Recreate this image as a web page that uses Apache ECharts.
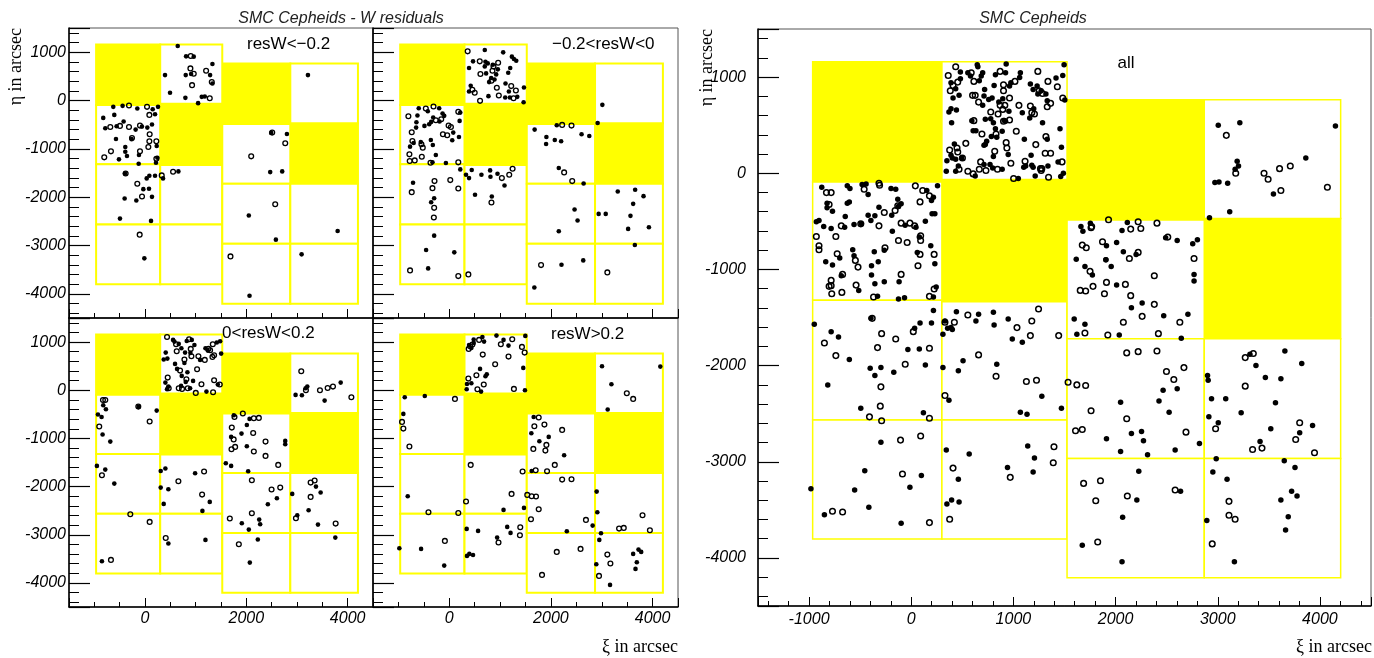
<!DOCTYPE html>
<html>
<head>
<meta charset="utf-8">
<script src="https://cdn.jsdelivr.net/npm/echarts@6/dist/echarts.min.js"></script>
<style>
  html, body { margin: 0; padding: 0; background: #fff; }
  #chart { width: 1374px; height: 658px; }
</style>
</head>
<body>
<div id="chart"></div>
<script>
// CCD chip layout (arcsec): x range of each chip column, row edges top->bottom, which row is yellow
const chipColX = [[-965, 300], [300, 1525], [1525, 2868], [2868, 4203]];
const chipRowY = [
  [1160, -92, -1321, -2566, -3802],
  [1160, -66, -1335, -2566, -3802],
  [765, -485, -1720, -2965, -4205],
  [765, -470, -1720, -2965, -4205]
];
const chipYellowRow = [0, 1, 0, 1];

const yTicks = [-4000, -3000, -2000, -1000, 0, 1000];
const panelLabels = ['resW<\u22120.2', '\u22120.2<resW<0', '0<resW<0.2', 'resW>0.2'];

// resW < -0.2
const lowFilled = [[646,1128],[811,913],[962,907],[1331,754],[395,526],[804,526],[910,548],[1285,526],[1331,353],[494,159],[797,55],[1048,-55],[1120,76],[1180,83],
  [-626,-131],[-442,-111],[-152,-166],[152,-180],[257,-131],[-824,-360],[-606,-298],[198,-284],[-784,-574],[-560,-533],[-422,-436],[-185,-602],[-60,-540],[46,-561],[138,-498],[-573,-796],[-264,-800],[231,-941],[-389,-962],[-514,-1218],[-389,-1059],[-356,-1149],[-119,-1128],[244,-1183],[217,-1287],[-125,-1308],
  [-395,-1509],[33,-1612],[86,-1557],[198,-1557],[356,-1612],[659,-1467],[-33,-1834],[79,-1827],[-402,-2028],[-171,-2069],[138,-1993],[-494,-2443],[119,-2491],[-13,-3266],
  [2490,-670],[2801,-692],[2471,-1481],[2708,-1467],[3216,526],[2049,-2380],[2583,-2879],[3802,-2699],[2063,-4041],[3091,-3183]];
const lowOpen = [[903,920],[896,664],[962,554],[1206,616],[1318,381],[929,318],[1278,48],
  [-316,-104],[40,-131],[86,-298],[-685,-547],[-494,-526],[-316,-547],[-99,-519],[92,-699],[-257,-775],[86,-844],[224,-844],[66,-962],[-804,-1176],[-672,-1052],[-99,-1052],[224,-1204],
  [-382,-1509],[330,-1550],[554,-1474],[-152,-1723],[-59,-1986],[-105,-2775],
  [2511,-664],[2768,-886],[2096,-1156],[2570,-2145],[1687,-3225]];

// -0.2 < resW < 0
const midLowFilled = [[699,1045],[1061,996],[468,810],[712,803],[758,768],[857,740],[1232,907],[1272,858],[1318,823],[389,671],[699,706],[956,644],[1199,671],[725,561],[923,540],[1160,574],[824,464],[784,381],[890,436],[422,304],[389,187],[771,90],[1107,353],[1173,187],[1470,270],[1101,62],[1193,62],[1338,76],[1463,-35],
  [-600,-159],[-198,-159],[-422,-221],[-626,-311],[-316,-353],[217,-250],[-132,-270],[-99,-318],[-191,-436],[-356,-443],[-488,-526],[-395,-491],[-646,-450],[-652,-561],[204,-422],[79,-664],[-362,-817],[-700,-880],[-560,-858],[191,-754],[59,-823],[-323,-920],[-771,-955],[-264,-1128],[-330,-1280],[-66,-1294],
  [217,-1426],[-712,-1702],[-297,-2021],[-356,-2104],
  [330,-1536],[389,-1605],[442,-1439],[633,-1536],[804,-1446],[811,-1578],[949,-1515],[1087,-1758],[507,-1951],[837,-1986],
  [-297,-2796],[-455,-3093],[99,-3142],[-415,-3474],
  [1680,-602],[2115,-512],[2603,-699],[2755,-733],[1911,-754],[1905,-900],[2076,-817],[2201,-844],[2155,-1398],[2643,-1716],
  [3012,-90],[2919,-464],
  [2465,-2256],[2524,-2484],[2155,-2706],
  [3315,-1882],[3657,-1848],[3822,-1979],[3618,-2138],[2939,-2346],[3078,-2346],[3565,-2387],[3519,-2657],[3928,-2623],[3651,-2989],
  [2208,-3398],[2636,-3308],[1674,-3868]];
const midLowOpen = [[362,1017],[600,810],[962,782],[870,706],[613,547],[850,616],[830,408],[455,221],[501,159],[936,263],[1219,298],[1311,208],[606,-7],[975,104],[1265,48],
  [-461,-166],[-310,-125],[-804,-325],[178,-235],[-158,-388],[-264,-408],[-13,-519],[33,-547],[-738,-657],[-125,-699],[-40,-720],[-725,-837],[-547,-906],[-521,-976],[-784,-1114],[-540,-1163],[-778,-1253],[-679,-1239],[-369,-1287],[178,-1280],
  [-290,-1668],[-738,-1896],[-330,-1813],[-297,-2221],[-303,-2422],[20,-1647],[178,-1820],
  [1035,-1605],[1180,-1536],[1246,-1412],[830,-2111],
  [-771,-3515],[178,-3633],[376,-3598],
  [2221,-505],[2405,-519],[2260,-1488],[2419,-1668],
  [1806,-3405],[3110,-3557]];

// 0 < resW < 0.2
const midHighFilled = [[554,1045],[580,1010],[666,962],[824,1024],[923,1045],[718,872],[409,782],[791,782],[896,775],[975,941],[1193,872],[1239,823],[1417,990],[1483,1017],[1503,761],[1087,630],[369,637],[442,657],[778,567],[593,547],[633,443],[725,298],[837,374],[804,173],[949,194],[402,159],[461,76],[435,21],[712,90],[890,42],[1213,-28],[1437,118],
  [2972,-97],[3097,-104],[3170,42],[3203,76],[3862,159],[3545,-215],
  [-824,-311],[-771,-394],[-929,-505],[-857,-554],[-837,-920],[-685,-1066],[-125,-346],[231,-422],
  [1753,-519],[2063,-595],[2010,-720],[1700,-969],[1905,-900],[2768,-1052],[2768,-1121],[2010,-1163],[1595,-1515],[1700,-1571],[2036,-1682],
  [-949,-1571],[-784,-1647],[-606,-1938],
  [310,-1675],[402,-1626],[989,-1723],[310,-2021],[461,-2055],[369,-2360],[1278,-2318],[1133,-2505],
  [2603,-2242],[2425,-2367],[2254,-2685],[2273,-2782],[1911,-2761],[2049,-2893],
  [3374,-2000],[3466,-2124],[2906,-2152],[3229,-2491],[3005,-2595],[3414,-2789],
  [-850,-3550],[461,-3183],[1193,-3107],[2227,-3100],[2069,-3578],[3756,-3059]];
const midHighOpen = [[435,1107],[613,955],[870,1059],[626,810],[903,858],[1338,955],[1252,858],[1285,830],[916,706],[1054,706],[1180,630],[1331,692],[1364,727],[778,637],[692,408],[1028,436],[817,228],[1114,125],[448,263],[468,42],[666,42],[731,28],[844,42],[1002,-55],[1344,-42],[1476,118],[1364,208],
  [3084,394],[3176,0],[3453,0],[3605,48],[3710,76],[4073,-145],
  [-830,-201],[-784,-201],[-903,-754],[-132,-339],[92,-650],
  [1766,-554],[1931,-484],[2148,-581],[2247,-574],[1713,-775],[1750,-1020],[2135,-886],[2379,-1066],[1779,-1176],[1707,-1225],[2148,-1273],[2379,-1363],[2629,-1550],
  [-850,-1765],
  [659,-1889],[1166,-1688],[1127,-2166],
  [2109,-1868],[2498,-2062],[2669,-2021],[2109,-2553],[1674,-2664],
  [3269,-1917],[3348,-1875],[3269,-2214],[2979,-2657],[3763,-2768],
  [-290,-2574],[92,-2733],[-672,-3522],[409,-3066],[1852,-3197]];

// resW > 0.2
const highFilled = [[481,1052],[389,941],[481,983],[435,879],[652,1107],[685,1010],[929,1135],[1068,1045],[1166,927],[1496,1128],[606,443],[1456,464],[738,332],[712,290],[349,131],[435,145],[343,21],[626,-28],[1489,0],
  [3005,498],[4152,491],[3190,125],[3117,-401],
  [-876,-145],[-481,-118],[-903,-491],
  [1661,-554],[1615,-893],[1957,-969],[1773,-1059],[2260,-1349],[1621,-1675],
  [-817,-2201],[1068,-2484],[1470,-2443],
  [2821,-2810],[2313,-2927],[2900,-2104],[2913,-2533],
  [-982,-3280],[-554,-3294],[-99,-3640],
  [343,-2879],[567,-2920],[1140,-2837],[1206,-2962],[942,-3059],[349,-3439],[395,-3398],[468,-3419],
  [2985,-2969],[2952,-3107],[2893,-3612],[3163,-4041],[3723,-3308],[3776,-3356],[3618,-3398],[3690,-3571],[3664,-3709]];
const highOpen = [[409,913],[455,948],[382,858],[587,1045],[1015,955],[1239,1059],[659,740],[1166,699],[1430,900],[1483,782],[903,540],[534,311],[376,242],[679,118],[554,21],[1272,28],
  [3493,-62],[3618,-180],
  [112,-180],[-929,-657],[-903,-796],[-784,-1169],
  [1760,-567],[1674,-747],[1872,-713],[2221,-823],[1911,-1135],[1654,-1218],[1891,-1253],[2076,-1550],[1700,-1661],[1924,-1682],
  [-409,-2533],[178,-2547],
  [422,-1550],[1443,-1688],[1226,-2152],[330,-2311],
  [2221,-1855],[2405,-1848],[1535,-2173],[1621,-2201],[1707,-2207],[1760,-2470],[1608,-2678],[2689,-2692],
  [3802,-2595],[3341,-2872],[3433,-2858],[3947,-2906],
  [-86,-3128],[1397,-2844],[1390,-3010],[969,-3162],
  [2115,-3356],[2583,-3294],[1825,-3834],
  [3110,-3412],[3170,-3598],[2946,-3854]];

const panelFilled = [lowFilled, midLowFilled, midHighFilled, highFilled];
const panelOpen = [lowOpen, midLowOpen, midHighOpen, highOpen];
const allFilled = [].concat(lowFilled, midLowFilled, midHighFilled, highFilled);
const allOpen = [].concat(lowOpen, midLowOpen, midHighOpen, highOpen);

const YELLOW = '#ffff00';
const tickFont = { fontFamily: 'Liberation Sans', fontStyle: 'italic', fontSize: 16, color: '#000' };

// build the chip cells: [x0, x1, yTop, yBottom, isYellow]
let cells = [];
chipColX.forEach((cx, c) => {
  const rows = chipRowY[c];
  for (let r = 0; r < rows.length - 1; r++) {
    cells.push([cx[0], cx[1], rows[r], rows[r + 1], r === chipYellowRow[c] ? 1 : 0]);
  }
});
cells.sort((a, b) => b[4] - a[4]);

const grids = [
  { left: 69, top: 28, width: 304, height: 290 },
  { left: 373, top: 28, width: 305, height: 290 },
  { left: 69, top: 318, width: 304, height: 289 },
  { left: 373, top: 318, width: 305, height: 289 },
  { left: 758, top: 29, width: 614, height: 577 }
].map(g => Object.assign(g, { containLabel: false, show: true, borderColor: '#555', borderWidth: 1, backgroundColor: 'transparent' }));

function xAxisFor(i) {
  const big = i === 4;
  const step = big ? 1000 : 2000;
  return {
    type: 'value', gridIndex: i, min: -1500, max: 4500, splitNumber: big ? 6 : 3,
    axisLine: { show: true, onZero: false, lineStyle: { color: '#000', width: 1.5 } },
    axisTick: { show: true, inside: true, length: 9, lineStyle: { color: '#000', width: 1 } },
    minorTick: { show: true, splitNumber: big ? 5 : 4, length: 5, lineStyle: { color: '#000', width: 1 } },
    splitLine: { show: false },
    axisLabel: Object.assign({ show: big || i >= 2, margin: big ? 6 : 4, showMinLabel: true, showMaxLabel: true,
      formatter: v => (v % step === 0 ? String(v) : '') }, tickFont)
  };
}
function yAxisFor(i) {
  const big = i === 4;
  return {
    type: 'value', gridIndex: i, min: -4500, max: 1500, splitNumber: 6,
    axisLine: { show: true, onZero: false, lineStyle: { color: '#000', width: 1.5 } },
    axisTick: { show: true, inside: true, length: 21, lineStyle: { color: '#000', width: 1.2 } },
    minorTick: { show: true, splitNumber: 5, length: 10, lineStyle: { color: '#000', width: 1 } },
    splitLine: { show: false },
    axisLabel: Object.assign({ show: big || i === 0 || i === 2, margin: big ? 12 : 3,
      formatter: v => (yTicks.indexOf(v) >= 0 ? String(v) : '') }, tickFont)
  };
}

function cellRenderer(lw) {
  return function (params, api) {
    const a = api.coord([api.value(0), api.value(2)]);
    const b = api.coord([api.value(1), api.value(3)]);
    return {
      type: 'rect',
      shape: { x: a[0], y: a[1], width: b[0] - a[0], height: b[1] - a[1] },
      style: { fill: api.value(4) ? YELLOW : '#fff', stroke: YELLOW, lineWidth: lw }
    };
  };
}

let series = [];
for (let i = 0; i < 5; i++) {
  const big = i === 4;
  series.push({
    type: 'custom', xAxisIndex: i, yAxisIndex: i, silent: true, z: 1,
    renderItem: cellRenderer(big ? 1.5 : 2),
    encode: { x: [0, 1], y: [2, 3] },
    data: cells
  });
  series.push({
    type: 'scatter', xAxisIndex: i, yAxisIndex: i, silent: true, z: 3,
    symbol: 'circle', symbolSize: big ? 5.5 : 4.6,
    itemStyle: { color: '#000', opacity: 1 },
    data: big ? allFilled : panelFilled[i]
  });
  series.push({
    type: 'scatter', xAxisIndex: i, yAxisIndex: i, silent: true, z: 3,
    symbol: 'circle', symbolSize: big ? 5.6 : 4.8,
    itemStyle: { color: 'rgba(0,0,0,0)', borderColor: '#000', borderWidth: big ? 1.5 : 1.3, opacity: 1 },
    data: big ? allOpen : panelOpen[i]
  });
}

function label(text, x, y, font, align) {
  return {
    type: 'text', x: x, y: y, silent: true, z: 100,
    style: { text: text, font: font, fill: '#000', align: align || 'left', verticalAlign: 'middle' }
  };
}
const serif = '18px "Liberation Serif"';
const sans = '17px "Liberation Sans"';
const titleFont = 'italic 16px "Liberation Sans"';

const graphics = [
  { type: 'text', x: 341, y: 19, z: 100, silent: true, style: { text: 'SMC Cepheids - W residuals', font: titleFont, fill: '#222', align: 'center', verticalAlign: 'middle' } },
  { type: 'text', x: 1033, y: 19, z: 100, silent: true, style: { text: 'SMC Cepheids', font: titleFont, fill: '#222', align: 'center', verticalAlign: 'middle' } },
  { type: 'text', x: 16, y: 28, rotation: Math.PI / 2, z: 100, silent: true, style: { text: '\u03b7 in arcsec', font: serif, fill: '#000', align: 'right', verticalAlign: 'middle' } },
  { type: 'text', x: 707, y: 29, rotation: Math.PI / 2, z: 100, silent: true, style: { text: '\u03b7 in arcsec', font: serif, fill: '#000', align: 'right', verticalAlign: 'middle' } },
  { type: 'text', x: 678, y: 647, z: 100, silent: true, style: { text: '\u03be in arcsec', font: serif, fill: '#000', align: 'right', verticalAlign: 'middle' } },
  { type: 'text', x: 1372, y: 647, z: 100, silent: true, style: { text: '\u03be in arcsec', font: serif, fill: '#000', align: 'right', verticalAlign: 'middle' } },
  label(panelLabels[0], 247, 44, sans),
  label(panelLabels[1], 552, 44, sans),
  label(panelLabels[2], 222, 333, sans),
  label(panelLabels[3], 551, 334, sans),
  label('all', 1126, 63, sans, 'center')
];

const chart = echarts.init(document.getElementById('chart'), null, { renderer: 'canvas', devicePixelRatio: 1 });
chart.setOption({
  animation: false,
  backgroundColor: '#fff',
  textStyle: { fontFamily: 'Liberation Sans' },
  grid: grids,
  xAxis: [0, 1, 2, 3, 4].map(xAxisFor),
  yAxis: [0, 1, 2, 3, 4].map(yAxisFor),
  series: series,
  graphic: graphics
});
</script>
</body>
</html>
